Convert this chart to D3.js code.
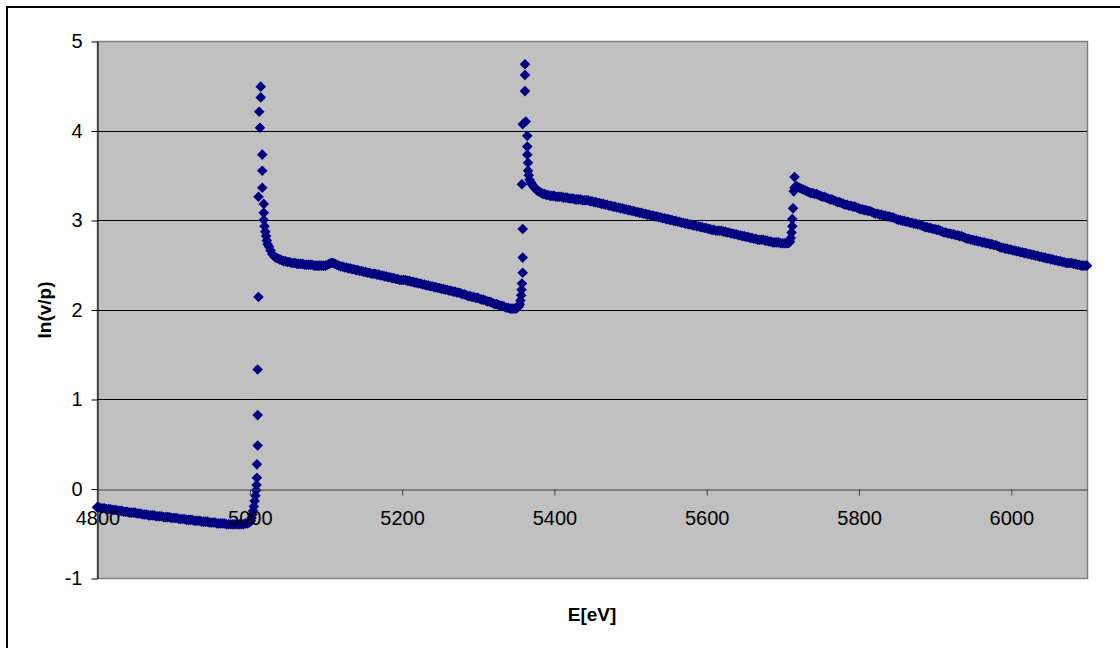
<!DOCTYPE html>
<html><head><meta charset="utf-8">
<script src="https://cdn.jsdelivr.net/npm/d3@7/dist/d3.min.js"></script>
<style>
body{margin:0;background:#fff}
svg{display:block}
text{font-family:"Liberation Sans",Arial,sans-serif}
</style>
</head><body>
<svg id="chart" width="1120" height="648"></svg>
<script>
// ---- data ----
const xTicks = [4800, 5000, 5200, 5400, 5600, 5800, 6000];
const yTicks = [-1, 0, 1, 2, 3, 4, 5];
const xLabel = "E[eV]";
const yLabel = "ln(v/p)";

const preEdge = [[4800,-0.21],[4802.5,-0.21],[4805,-0.22],[4807.5,-0.22],[4810,-0.22],[4812.5,-0.23],[4815,-0.23],[4817.5,-0.23],[4820,-0.24],[4822.5,-0.24],[4825,-0.24],[4827.5,-0.25],[4830,-0.25],[4832.5,-0.25],[4835,-0.26],[4837.5,-0.26],[4840,-0.26],[4842.5,-0.27],[4845,-0.27],[4847.5,-0.27],[4850,-0.27],[4852.5,-0.28],[4855,-0.28],[4857.5,-0.28],[4860,-0.29],[4862.5,-0.29],[4865,-0.29],[4867.5,-0.30],[4870,-0.30],[4872.5,-0.30],[4875,-0.30],[4877.5,-0.31],[4880,-0.31],[4882.5,-0.31],[4885,-0.31],[4887.5,-0.32],[4890,-0.32],[4892.5,-0.32],[4895,-0.32],[4897.5,-0.33],[4900,-0.33],[4902.5,-0.33],[4905,-0.33],[4907.5,-0.34],[4910,-0.34],[4912.5,-0.34],[4915,-0.34],[4917.5,-0.35],[4920,-0.35],[4922.5,-0.35],[4925,-0.35],[4927.5,-0.36],[4930,-0.36],[4932.5,-0.36],[4935,-0.36],[4937.5,-0.37],[4940,-0.37],[4942.5,-0.37],[4945,-0.37],[4947.5,-0.38],[4950,-0.38],[4952.5,-0.38],[4955,-0.38],[4957.5,-0.39],[4960,-0.39],[4962.5,-0.39],[4965,-0.39],[4967.5,-0.39],[4970,-0.40],[4972.5,-0.40],[4975,-0.40],[4977.5,-0.40],[4980,-0.40],[4982.5,-0.40],[4985,-0.40],[4987.5,-0.40],[4990,-0.40],[4992.5,-0.40],[4995,-0.39],[4997.5,-0.39],[5000,-0.38]];

const edge1 = [[5001,-0.37],[5002,-0.36],[5003,-0.33],[5004,-0.29],[5005,-0.25],[5006,-0.20],[5007,-0.14],[5008,-0.08],[5009,-0.02],[5009.5,0.04],[5010,0.12],[5010,0.27],[5011,0.48],[5011,0.82],[5011,1.33],[5012,2.14],
  [5015,4.49],[5015,4.37],[5013,4.21],[5014,4.03],[5017,3.73],[5017,3.55],[5017,3.36],[5012,3.26],[5019,3.18],[5019,3.08]];

const post1 = [[5019,3.00],[5020,2.93],[5021,2.87],[5022,2.82],[5023,2.77],[5024,2.73],[5026,2.70],[5028,2.66],[5030,2.62],[5033,2.59],
  [5035,2.58],[5037.5,2.57],[5040,2.56],[5042.5,2.55],[5045,2.54],[5047.5,2.54],[5050,2.53],[5052.5,2.53],[5055,2.52],[5057.5,2.52],[5060,2.52],[5062.5,2.51],[5065,2.51],[5067.5,2.51],[5070,2.51],[5072.5,2.50],[5075,2.50],[5077.5,2.50],[5080,2.50],[5082.5,2.50],[5085,2.49],[5087.5,2.49],[5090,2.49],[5092.5,2.49],[5095,2.49],[5097.5,2.49],[5100,2.49],[5102.5,2.50],[5105,2.51],[5107.5,2.52],[5110,2.52],[5112.5,2.51],[5115,2.50],[5117.5,2.49],[5120,2.48],[5122.5,2.48],[5125,2.47],[5127.5,2.47],[5130,2.46],[5132.5,2.46],[5135,2.45],[5137.5,2.45],[5140,2.44],[5142.5,2.44],[5145,2.43],[5147.5,2.43],[5150,2.42],[5152.5,2.42],[5155,2.41],[5157.5,2.41],[5160,2.40],[5162.5,2.40],[5165,2.40],[5167.5,2.39],[5170,2.39],[5172.5,2.38],[5175,2.38],[5177.5,2.37],[5180,2.37],[5182.5,2.36],[5185,2.36],[5187.5,2.35],[5190,2.35],[5192.5,2.34],[5195,2.34],[5197.5,2.33],[5200,2.33],[5202.5,2.33],[5205,2.33],[5207.5,2.32],[5210,2.32],[5212.5,2.31],[5215,2.31],[5217.5,2.30],[5220,2.30],[5222.5,2.29],[5225,2.29],[5227.5,2.28],[5230,2.28],[5232.5,2.27],[5235,2.27],[5237.5,2.26],[5240,2.26],[5242.5,2.25],[5245,2.25],[5247.5,2.24],[5250,2.24],[5252.5,2.23],[5255,2.23],[5257.5,2.22],[5260,2.22],[5262.5,2.21],[5265,2.21],[5267.5,2.20],[5270,2.20],[5272.5,2.19],[5275,2.19],[5277.5,2.18],[5280,2.17],[5282.5,2.17],[5285,2.16],[5287.5,2.15],[5290,2.15],[5292.5,2.14],[5295,2.14],[5297.5,2.13],[5300,2.13],[5302.5,2.12],[5305,2.11],[5307.5,2.11],[5310,2.10],[5312.5,2.09],[5315,2.09],[5317.5,2.08],[5320,2.07],[5322.5,2.06],[5325,2.06],[5327.5,2.05],[5330,2.04],[5332.5,2.04],[5335,2.03],[5337.5,2.02],[5340,2.02],[5342.5,2.01],[5345,2.01],[5347.5,2.01],[5350,2.01],[5352,2.02]];

const edge2 = [[5353,2.03],[5354,2.04],[5355,2.06],[5356,2.10],[5357,2.16],[5357.5,2.22],[5358,2.29],[5359,2.41],[5359,2.58],[5359,2.90],
  [5362,4.74],[5362,4.62],[5362,4.44],[5363,4.10],[5359,4.07],[5365,3.94],[5365,3.82],[5365,3.73],[5366,3.64],[5366,3.55],[5358,3.40],[5367,3.50],[5368,3.45]];

const post2 = [[5370,3.42],[5371,3.40],[5372,3.39],[5373.5,3.37],[5375,3.36],[5376.5,3.34],[5378,3.33],[5380,3.32],[5382,3.31],[5384,3.30],[5386,3.29],[5388,3.29],[5390,3.28],[5392.5,3.28],[5395,3.27],[5397.5,3.27],
  [5400,3.27],[5402.5,3.26],[5405,3.26],[5407.5,3.26],[5410,3.26],[5412.5,3.25],[5415,3.25],[5417.5,3.25],[5420,3.24],[5422.5,3.24],[5425,3.24],[5427.5,3.23],[5430,3.23],[5432.5,3.23],[5435,3.23],[5437.5,3.22],[5440,3.22],[5442.5,3.22],[5445,3.22],[5447.5,3.21],[5450,3.21],[5452.5,3.20],[5455,3.20],[5457.5,3.19],[5460,3.19],[5462.5,3.18],[5465,3.18],[5467.5,3.17],[5470,3.17],[5472.5,3.16],[5475,3.16],[5477.5,3.15],[5480,3.15],[5482.5,3.14],[5485,3.14],[5487.5,3.13],[5490,3.13],[5492.5,3.12],[5495,3.12],[5497.5,3.11],[5500,3.11],[5502.5,3.10],[5505,3.10],[5507.5,3.09],[5510,3.09],[5512.5,3.08],[5515,3.08],[5517.5,3.07],[5520,3.07],[5522.5,3.06],[5525,3.06],[5527.5,3.05],[5530,3.05],[5532.5,3.04],[5535,3.04],[5537.5,3.03],[5540,3.03],[5542.5,3.02],[5545,3.02],[5547.5,3.01],[5550,3.01],[5552.5,3.00],[5555,3.00],[5557.5,2.99],[5560,2.99],[5562.5,2.98],[5565,2.98],[5567.5,2.97],[5570,2.97],[5572.5,2.96],[5575,2.96],[5577.5,2.95],[5580,2.95],[5582.5,2.94],[5585,2.94],[5587.5,2.93],[5590,2.93],[5592.5,2.92],[5595,2.92],[5597.5,2.91],[5600,2.91],[5602.5,2.90],[5605,2.90],[5607.5,2.89],[5610,2.89],[5612.5,2.88],[5615,2.88],[5617.5,2.88],[5620,2.88],[5622.5,2.87],[5625,2.87],[5627.5,2.86],[5630,2.86],[5632.5,2.85],[5635,2.85],[5637.5,2.84],[5640,2.84],[5642.5,2.83],[5645,2.83],[5647.5,2.82],[5650,2.82],[5652.5,2.81],[5655,2.81],[5657.5,2.80],[5660,2.80],[5662.5,2.79],[5665,2.79],[5667.5,2.78],[5670,2.78],[5672.5,2.78],[5675,2.78],[5677.5,2.77],[5680,2.77],[5682.5,2.76],[5685,2.76],[5687.5,2.75],[5690,2.75],[5692.5,2.75],[5695,2.75],[5697.5,2.74],[5700,2.74],[5702.5,2.74],[5705,2.74],[5707.5,2.74],[5709,2.75]];

const edge3 = [[5710,2.76],[5711,2.80],[5712,2.86],[5713,2.93],[5713,3.01],[5714,3.13],[5716,3.48],[5715,3.32],[5716,3.36],[5718,3.38],[5720,3.37],[5722.5,3.36],[5725,3.35],[5727.5,3.34],[5730,3.33],[5732.5,3.32],[5735,3.31],[5737.5,3.30]];

const post3 = [[5740,3.30],[5742.5,3.29],[5745,3.29],[5747.5,3.28],[5750,3.27],[5752.5,3.26],[5755,3.26],[5757.5,3.25],[5760,3.24],[5762.5,3.23],[5765,3.23],[5767.5,3.22],[5770,3.21],[5772.5,3.20],[5775,3.20],[5777.5,3.19],[5780,3.18],[5782.5,3.17],[5785,3.17],[5787.5,3.16],[5790,3.16],[5792.5,3.15],[5795,3.15],[5797.5,3.14],[5800,3.13],[5802.5,3.12],[5805,3.12],[5807.5,3.11],[5810,3.11],[5812.5,3.10],[5815,3.10],[5817.5,3.09],[5820,3.08],[5822.5,3.07],[5825,3.07],[5827.5,3.06],[5830,3.06],[5832.5,3.05],[5835,3.05],[5837.5,3.04],[5840,3.04],[5842.5,3.03],[5845,3.03],[5847.5,3.02],[5850,3.01],[5852.5,3.00],[5855,3.00],[5857.5,2.99],[5860,2.99],[5862.5,2.98],[5865,2.98],[5867.5,2.97],[5870,2.97],[5872.5,2.96],[5875,2.96],[5877.5,2.95],[5880,2.95],[5882.5,2.94],[5885,2.93],[5887.5,2.92],[5890,2.92],[5892.5,2.91],[5895,2.91],[5897.5,2.90],[5900,2.90],[5902.5,2.89],[5905,2.89],[5907.5,2.88],[5910,2.87],[5912.5,2.86],[5915,2.86],[5917.5,2.85],[5920,2.85],[5922.5,2.84],[5925,2.84],[5927.5,2.83],[5930,2.83],[5932.5,2.82],[5935,2.82],[5937.5,2.81],[5940,2.80],[5942.5,2.79],[5945,2.79],[5947.5,2.78],[5950,2.78],[5952.5,2.77],[5955,2.77],[5957.5,2.76],[5960,2.76],[5962.5,2.75],[5965,2.75],[5967.5,2.74],[5970,2.74],[5972.5,2.73],[5975,2.73],[5977.5,2.72],[5980,2.72],[5982.5,2.71],[5985,2.70],[5987.5,2.69],[5990,2.69],[5992.5,2.68],[5995,2.68],[5997.5,2.67],[6000,2.67],[6002.5,2.66],[6005,2.66],[6007.5,2.65],[6010,2.65],[6012.5,2.64],[6015,2.64],[6017.5,2.63],[6020,2.63],[6022.5,2.62],[6025,2.62],[6027.5,2.61],[6030,2.61],[6032.5,2.60],[6035,2.60],[6037.5,2.59],[6040,2.59],[6042.5,2.58],[6045,2.58],[6047.5,2.57],[6050,2.57],[6052.5,2.56],[6055,2.56],[6057.5,2.55],[6060,2.55],[6062.5,2.54],[6065,2.54],[6067.5,2.53],[6070,2.53],[6072.5,2.52],[6075,2.52],[6077.5,2.52],[6080,2.52],[6082.5,2.51],[6085,2.51],[6087.5,2.50],[6090,2.50],[6092.5,2.49],[6095,2.49],[6097.5,2.49],[6100,2.49]];

const points = [].concat(preEdge, edge1, post1, edge2, post2, edge3, post3);

// ---- layout ----
const svg = d3.select("#chart");
const plot = {left: 97, right: 1087, top: 41, bottom: 578};
const x = d3.scaleLinear().domain([4800, 6100]).range([plot.left, plot.right]);
const y = d3.scaleLinear().domain([-1, 5]).range([plot.bottom, plot.top]);
const fmt = d => String(d);

// outer chart border (only left/top visible in the frame)
svg.append("rect").attr("x", 7).attr("y", 7).attr("width", 1130).attr("height", 660)
  .attr("fill", "#fff").attr("stroke", "#000").attr("stroke-width", 2);

// plot area
svg.append("rect").attr("x", plot.left + 0.5).attr("y", plot.top + 0.5)
  .attr("width", plot.right - plot.left).attr("height", plot.bottom - plot.top)
  .attr("fill", "#c0c0c0").attr("stroke", "#808080").attr("stroke-width", 1.5);

// gridlines
svg.append("g").selectAll("line").data(yTicks.filter(v => v > 0 && v < 5)).join("line")
  .attr("x1", plot.left).attr("x2", plot.right)
  .attr("y1", d => Math.round(y(d)) + 0.5).attr("y2", d => Math.round(y(d)) + 0.5)
  .attr("stroke", "#000").attr("stroke-width", 1);

// markers
const r = 5.3;
const diamond = `M0,${-r}L${r},0L0,${r}L${-r},0Z`;
svg.append("g").selectAll("path").data(points).join("path")
  .attr("d", diamond)
  .attr("transform", d => `translate(${x(d[0])},${y(d[1])})`)
  .attr("fill", "#000080");

// y axis
const yAxis = svg.append("g").attr("transform", `translate(${plot.left + 0.5},0.5)`)
  .call(d3.axisLeft(y).tickValues(yTicks).tickFormat(fmt).tickSize(6).tickSizeOuter(0).tickPadding(9));
yAxis.select(".domain").attr("stroke", "#000");
yAxis.selectAll(".tick line").attr("stroke", "#000");
yAxis.selectAll("text").attr("font-size", 20).attr("fill", "#000")
  .style("font-family", '"Liberation Sans",Arial,sans-serif');

// x axis at y = 0
const xAxis = svg.append("g").attr("transform", `translate(0.5,${Math.round(y(0)) + 0.5})`)
  .call(d3.axisBottom(x).tickValues(xTicks).tickFormat(fmt).tickSize(6).tickSizeOuter(0).tickPadding(15));
xAxis.select(".domain").attr("stroke", "#404040");
xAxis.selectAll(".tick line").attr("stroke", "#404040");
xAxis.selectAll("text").attr("font-size", 20).attr("fill", "#000")
  .style("font-family", '"Liberation Sans",Arial,sans-serif');

// axis titles
svg.append("text").attr("x", 592).attr("y", 621).attr("text-anchor", "middle")
  .attr("font-size", 19).attr("font-weight", "bold").text(xLabel);
svg.append("text").attr("transform", "translate(51,310) rotate(-90)").attr("text-anchor", "middle")
  .attr("font-size", 19).attr("font-weight", "bold").text(yLabel);
</script>
</body></html>
